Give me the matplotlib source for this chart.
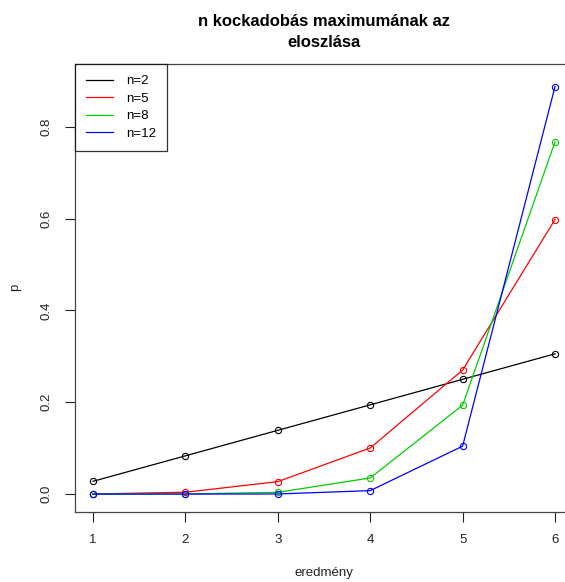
import numpy as np
import matplotlib
matplotlib.use("Agg")
import matplotlib.pyplot as plt
from matplotlib.lines import Line2D

plt.rcParams['font.family'] = ['Liberation Sans', 'DejaVu Sans']

# kimenetek
eredmeny = [1, 2, 3, 4, 5, 6]
# valoszinusegek (n kockadobas maximuma)
p_n2 = [0.0278, 0.0833, 0.1389, 0.1944, 0.2500, 0.3056]
p_n5 = [0.0001, 0.0040, 0.0271, 0.1004, 0.2702, 0.5981]
p_n8 = [0.0000, 0.0002, 0.0038, 0.0351, 0.1936, 0.7674]
p_n12 = [0.0000, 0.0000, 0.0002, 0.0075, 0.1044, 0.8878]

labels = ["n=2", "n=5", "n=8", "n=12"]
colors = ["black", "#FF0000", "#00CD00", "#0000FF"]


def main():
    fig = plt.figure(figsize=(5.65, 5.82), dpi=100)
    ax = fig.add_axes([75 / 565, (582 - 511.5) / 582, 498.5 / 565, 447.5 / 582])

    for ys, c in zip([p_n2, p_n5, p_n8, p_n12], colors):
        ax.plot(eredmeny, ys, color=c, lw=0.9, marker="o", ms=4.5,
                mfc="none", mec=c, mew=0.8)

    ax.set_xlim(0.805, 6.2)
    ax.set_ylim(-0.038, 0.937)
    ax.set_xticks(eredmeny)
    ax.set_yticks([0.0, 0.2, 0.4, 0.6, 0.8])
    ax.set_yticklabels(["0.0", "0.2", "0.4", "0.6", "0.8"], rotation=90, va="center")
    ax.tick_params(length=7, width=0.8, labelsize=9.5, colors="#222222", pad=9)
    for s in ax.spines.values():
        s.set_linewidth(0.9)
        s.set_color("#444444")

    ax.set_xlabel("eredmény", fontsize=9.5, color="#222222", va="center")
    ax.xaxis.set_label_coords(0.5, (511.5 - 573) / 447.5)
    ax.set_ylabel("p", fontsize=9.5, color="#222222", va="center")
    ax.yaxis.set_label_coords((15 - 75) / 498.5, 0.5)
    fig.text(324 / 565, 1 - 32 / 582, "n kockadobás maximumának az\neloszlása",
             ha="center", va="center", fontsize=12, fontweight="bold", linespacing=1.45)

    handles = [Line2D([0], [0], color=c, lw=0.9) for c in colors]
    leg = ax.legend(handles, labels, loc="upper left", borderaxespad=0,
                    fancybox=False, edgecolor="black", fontsize=9.5,
                    handlelength=2.0, labelspacing=0.4, borderpad=0.85,
                    handletextpad=1.0)
    leg.get_frame().set_linewidth(0.9)

    fig.savefig("out.png", dpi=100)


if __name__ == "__main__":
    main()
